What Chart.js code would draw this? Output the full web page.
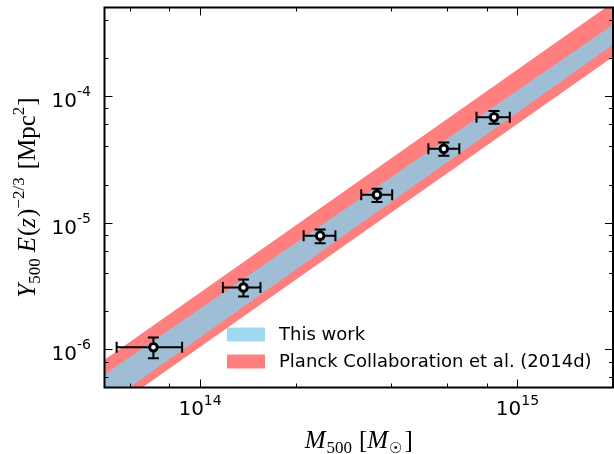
<!DOCTYPE html>
<html><head><meta charset="utf-8">
<script src="https://cdn.jsdelivr.net/npm/chart.js@4/dist/chart.umd.min.js"></script>
<style>html,body{margin:0;padding:0;background:#fff;overflow:hidden}#wrap{width:614px;height:454px;position:relative}</style>
</head><body><div id="wrap"><canvas id="c" width="614" height="454"></canvas></div>
<script>
// ---- data ----
const massCenter = [7.13e13, 1.37e14, 2.39e14, 3.61e14, 5.86e14, 8.44e14];
const massLow    = [5.46e13, 1.18e14, 2.12e14, 3.22e14, 5.24e14, 7.43e14];
const massHigh   = [8.78e13, 1.55e14, 2.67e14, 4.03e14, 6.56e14, 9.46e14];
const ySZ        = [1.04e-6, 3.08e-6, 7.9e-6, 1.66e-5, 3.83e-5, 6.79e-5];
const ySZLow     = [8.5e-7, 2.61e-6, 6.87e-6, 1.46e-5, 3.37e-5, 6.03e-5];
const ySZHigh    = [1.24e-6, 3.56e-6, 8.85e-6, 1.85e-5, 4.29e-5, 7.62e-5];

const bandMass       = [5e13, 2e15];
const thisWorkUpper  = [6.32e-7, 3.66e-4];
const thisWorkLower  = [3.63e-7, 2.54e-4];
const planckUpper    = [8.28e-7, 5.48e-4];
const planckLower    = [3.08e-7, 2.04e-4];

const xMajorValues = [1e14, 1e15];
const xMajorExps   = ['14', '15'];
const yMajorValues = [1e-6, 1e-5, 1e-4];
const yMajorExps   = ['-6', '-5', '-4'];

const legendLabels = ['This work', 'Planck Collaboration et al. (2014d)'];

const BLUE = 'rgba(135,206,235,0.8)';
const RED  = 'rgba(255,0,0,0.5)';

const pts = (xs, ys) => xs.map((x, i) => ({x, y: ys[i]}));

function richText(ctx, segs, x, y, align) {
  let w = 0;
  segs.forEach(s => { ctx.font = s.font; s.w = ctx.measureText(s.t).width; w += s.w + (s.gap || 0); });
  let cx = align === 'center' ? x - w / 2 : (align === 'right' ? x - w : x);
  segs.forEach(s => { ctx.font = s.font; ctx.fillText(s.t, cx, y + (s.dy || 0)); cx += s.w + (s.gap || 0); });
}

const decor = {
  id: 'decor',
  beforeDatasetDraw(chart, args) {
    if (args.index !== 4) return;
    const ctx = chart.ctx, xs = chart.scales.x, ys = chart.scales.y;
    ctx.save();
    ctx.strokeStyle = '#000'; ctx.lineWidth = 2;
    const cap = 5.5;
    massCenter.forEach((m, i) => {
      const px = xs.getPixelForValue(m), py = ys.getPixelForValue(ySZ[i]);
      const x0 = xs.getPixelForValue(massLow[i]), x1 = xs.getPixelForValue(massHigh[i]);
      const y0 = ys.getPixelForValue(ySZLow[i]), y1 = ys.getPixelForValue(ySZHigh[i]);
      ctx.beginPath();
      ctx.moveTo(x0, py); ctx.lineTo(x1, py);
      ctx.moveTo(x0, py - cap); ctx.lineTo(x0, py + cap);
      ctx.moveTo(x1, py - cap); ctx.lineTo(x1, py + cap);
      ctx.moveTo(px, y0); ctx.lineTo(px, y1);
      ctx.moveTo(px - cap, y0); ctx.lineTo(px + cap, y0);
      ctx.moveTo(px - cap, y1); ctx.lineTo(px + cap, y1);
      ctx.stroke();
    });
    ctx.restore();
  },
  afterDraw(chart) {
    const ctx = chart.ctx, a = chart.chartArea, xs = chart.scales.x, ys = chart.scales.y;
    ctx.save();
    // ticks (inward, all four sides)
    ctx.strokeStyle = '#000'; ctx.lineWidth = 1;
    const isMajor = v => { const m = v / Math.pow(10, Math.floor(Math.log10(v) + 1e-9)); return Math.abs(m - 1) < 1e-6; };
    ctx.beginPath();
    xs.ticks.forEach(t => {
      const p = Math.round(xs.getPixelForValue(t.value)) + 0.5, L = isMajor(t.value) ? 8 : 4;
      ctx.moveTo(p, a.bottom); ctx.lineTo(p, a.bottom - L);
      ctx.moveTo(p, a.top); ctx.lineTo(p, a.top + L);
    });
    ys.ticks.forEach(t => {
      const p = Math.round(ys.getPixelForValue(t.value)) + 0.5, L = isMajor(t.value) ? 8 : 4;
      ctx.moveTo(a.left, p); ctx.lineTo(a.left + L, p);
      ctx.moveTo(a.right, p); ctx.lineTo(a.right - L, p);
    });
    ctx.stroke();
    // spines
    ctx.lineWidth = 2;
    ctx.strokeRect(a.left, a.top, a.right - a.left, a.bottom - a.top);
    // tick labels
    ctx.fillStyle = '#000'; ctx.textBaseline = 'alphabetic';
    const big = '20px "DejaVu Sans"', small = '14px "DejaVu Sans"';
    xMajorValues.forEach((v, i) => {
      const p = xs.getPixelForValue(v);
      richText(ctx, [{t: '10', font: big}, {t: xMajorExps[i], font: small, dy: -10}], p, 415, 'center');
    });
    yMajorValues.forEach((v, i) => {
      const p = ys.getPixelForValue(v);
      richText(ctx, [{t: '10', font: big}, {t: yMajorExps[i], font: small, dy: -11}], 91, p + 11, 'right');
    });
    // axis titles
    const it = 'italic 25px "Liberation Serif"', rm = '25px "Liberation Serif"', sb = '17px "Liberation Serif"';
    richText(ctx, [
      {t: 'M', font: it, gap: 1}, {t: '500', font: sb, dy: 5, gap: 7},
      {t: '[', font: rm}, {t: 'M', font: it, gap: 1}, {t: '\u2609', font: '15px "DejaVu Sans"', dy: 5, gap: 2}, {t: ']', font: rm}
    ], (a.left + a.right) / 2, 448, 'center');
    ctx.save();
    ctx.translate(35, (a.top + a.bottom) / 2);
    ctx.rotate(-Math.PI / 2);
    richText(ctx, [
      {t: 'Y', font: it, gap: 0}, {t: '500', font: sb, dy: 5, gap: 6},
      {t: 'E', font: it, gap: 1}, {t: '(', font: rm}, {t: 'z', font: it, gap: 1}, {t: ')', font: rm},
      {t: '\u22122/3', font: sb, dy: -11, gap: 8},
      {t: '[Mpc', font: rm}, {t: '2', font: sb, dy: -11, gap: 1}, {t: ']', font: rm}
    ], 0, 0, 'center');
    ctx.restore();
    // legend
    const lx = 227, lw = 38, lh = 14;
    const rows = [{c: BLUE, y: 334.5}, {c: RED, y: 361.5}];
    ctx.font = '18px "DejaVu Sans"'; ctx.textBaseline = 'middle';
    rows.forEach((r, i) => {
      ctx.fillStyle = r.c; ctx.fillRect(lx, r.y - lh / 2, lw, lh);
      ctx.fillStyle = '#000'; ctx.fillText(legendLabels[i], 279, r.y + 1);
    });
    ctx.restore();
  }
};

new Chart(document.getElementById('c'), {
  type: 'line',
  data: {
    datasets: [
      {label: 'planckUpper', data: pts(bandMass, planckUpper), fill: 1, backgroundColor: RED, borderWidth: 0, pointRadius: 0, order: 3, clip: 0},
      {label: 'planckLower', data: pts(bandMass, planckLower), fill: false, borderWidth: 0, pointRadius: 0, order: 3, clip: 0},
      {label: 'thisUpper', data: pts(bandMass, thisWorkUpper), fill: 3, backgroundColor: BLUE, borderWidth: 0, pointRadius: 0, order: 2, clip: 0},
      {label: 'thisLower', data: pts(bandMass, thisWorkLower), fill: false, borderWidth: 0, pointRadius: 0, order: 2, clip: 0},
      {label: 'data', data: pts(massCenter, ySZ), showLine: false, pointRadius: 3.8, pointBorderWidth: 3,
       pointBackgroundColor: '#fff', pointBorderColor: '#000', order: 1}
    ]
  },
  options: {
    responsive: false, animation: false, devicePixelRatio: 1,
    layout: {autoPadding: false, padding: {left: 104.5, top: 7.5, right: 1, bottom: 66.5}},
    plugins: {legend: {display: false}, tooltip: {enabled: false}},
    scales: {
      x: {type: 'logarithmic', display: false, min: 5e13, max: 2e15},
      y: {type: 'logarithmic', display: false, min: 5e-7, max: 5e-4}
    }
  },
  plugins: [decor]
});
</script></body></html>
